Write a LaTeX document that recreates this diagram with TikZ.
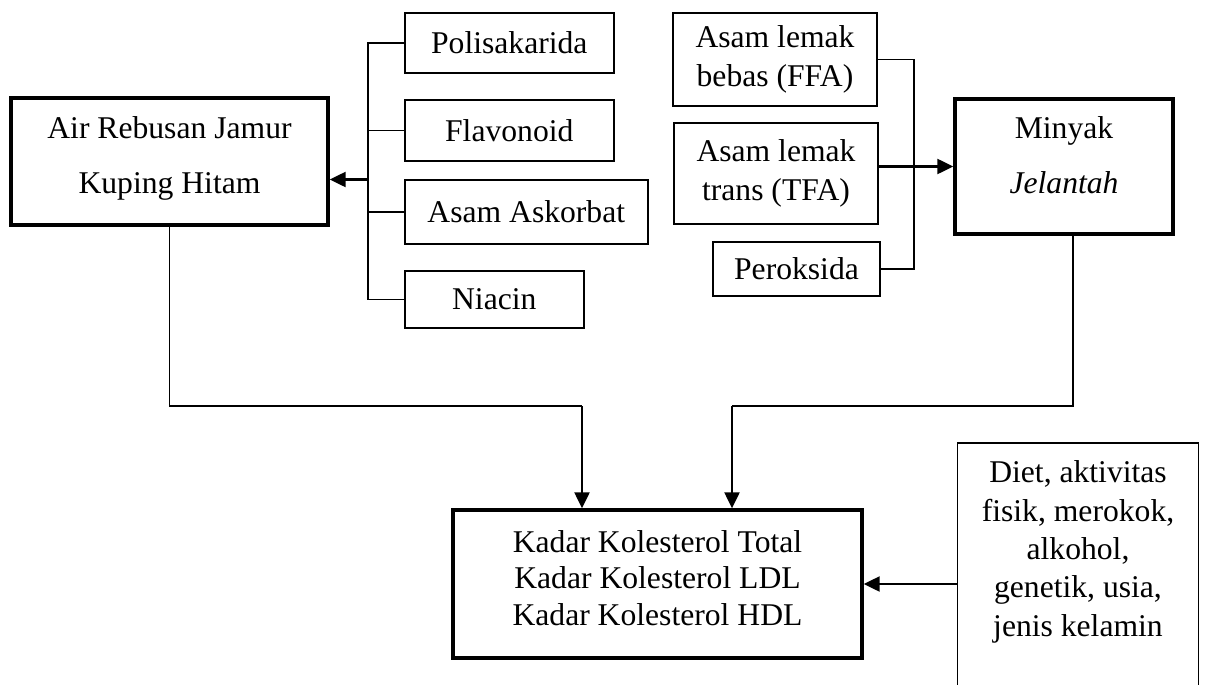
\documentclass[tikz,border=0pt]{standalone}
\usepackage{fontspec}
\setmainfont{Liberation Serif}
\usepackage{tikz}
\usetikzlibrary{arrows.meta, positioning, calc}
\tikzset{
  arr/.style={-{Triangle[length=0.32cm, width=0.3cm]}, line width=1.25pt, black},
  link/.style={line width=0.8pt, black},
  mainbox/.style={rectangle, draw=black, line width=1.9pt, align=center, inner sep=0pt},
  subbox/.style={rectangle, draw=black, line width=0.9pt, align=center, inner sep=0pt},
}

\begin{document}
\begin{tikzpicture}[font=\fontsize{18}{21.8}\selectfont]
  \useasboundingbox (0,0) rectangle (24.1,-13.68);

  % Jamur side
  \node[mainbox, minimum width=6.34cm, minimum height=2.54cm, font=\fontsize{18}{31.3}\selectfont, text depth=0.27cm] (AR) at (3.39,-3.23) {Air Rebusan Jamur\\Kuping Hitam};
  \node[subbox, anchor=west, minimum width=4.18cm, minimum height=1.2cm] (POL) at (8.08,-0.86) {Polisakarida};
  \node[subbox, anchor=west, minimum width=4.18cm, minimum height=1.22cm] (FLA) at (8.08,-2.61) {Flavonoid};
  \node[subbox, anchor=west, minimum width=4.86cm, minimum height=1.28cm] (ASK) at (8.08,-4.24) {Asam Askorbat};
  \node[subbox, anchor=west, minimum width=3.58cm, minimum height=1.14cm] (NIA) at (8.08,-5.99) {Niacin};

  \coordinate (lbar) at (7.36,-3.59);
  \draw[link] (POL.west) -| (lbar |- NIA.west) -- (NIA.west);
  \draw[link] (FLA.west) -- (FLA.west -| lbar);
  \draw[link] (ASK.west) -- (ASK.west -| lbar);
  \draw[arr] (lbar) -- (lbar -| AR.east);

  % Minyak side
  \node[subbox, minimum width=4.08cm, minimum height=1.86cm] (FFA) at (15.5,-1.19) {Asam lemak\\bebas (FFA)};
  \node[subbox, minimum width=4.08cm, minimum height=2.02cm] (TFA) at (15.52,-3.47) {Asam lemak\\trans (TFA)};
  \node[subbox, minimum width=3.34cm, minimum height=1.08cm] (PER) at (15.93,-5.38) {Peroksida};
  \node[mainbox, minimum width=4.36cm, minimum height=2.7cm, font=\fontsize{18}{31.3}\selectfont, text depth=0.47cm] (MJ) at (21.28,-3.33) {Minyak\\\textit{Jelantah}};

  \coordinate (rbar) at (18.28,0);
  \draw[link] (FFA.east) -| (rbar |- PER.east) -- (PER.east);
  \draw[arr] (TFA.east |- MJ.west) -- (MJ.west);

  % Kolesterol
  \node[mainbox, minimum width=8.18cm, minimum height=2.96cm, font=\fontsize{18}{20.8}\selectfont, text depth=0.25cm] (KD) at (13.15,-11.68) {Kadar Kolesterol Total\\Kadar Kolesterol LDL\\Kadar Kolesterol HDL};
  \node[align=center, anchor=north, minimum width=4.8cm, inner xsep=0pt, inner ysep=0.35cm] (DT) at (21.56,-8.86) {Diet, aktivitas\\fisik, merokok,\\alkohol,\\genetik, usia,\\jenis kelamin};
  \draw[line width=0.9pt] (DT.north west) ++(0,-6) |- (DT.north east) -- ++(0,-6);

  \coordinate (lj) at (11.64,-8.12);
  \coordinate (rj) at (14.64,-8.12);
  \draw[link] (AR.south) |- (lj);
  \draw[arr] (lj) -- (lj |- KD.north);
  \draw[link] ($(MJ.south)+(0.18,0)$) |- (rj);
  \draw[arr] (rj) -- (rj |- KD.north);
  \draw[arr] (KD.east -| DT.west) -- (KD.east);
\end{tikzpicture}
\end{document}
